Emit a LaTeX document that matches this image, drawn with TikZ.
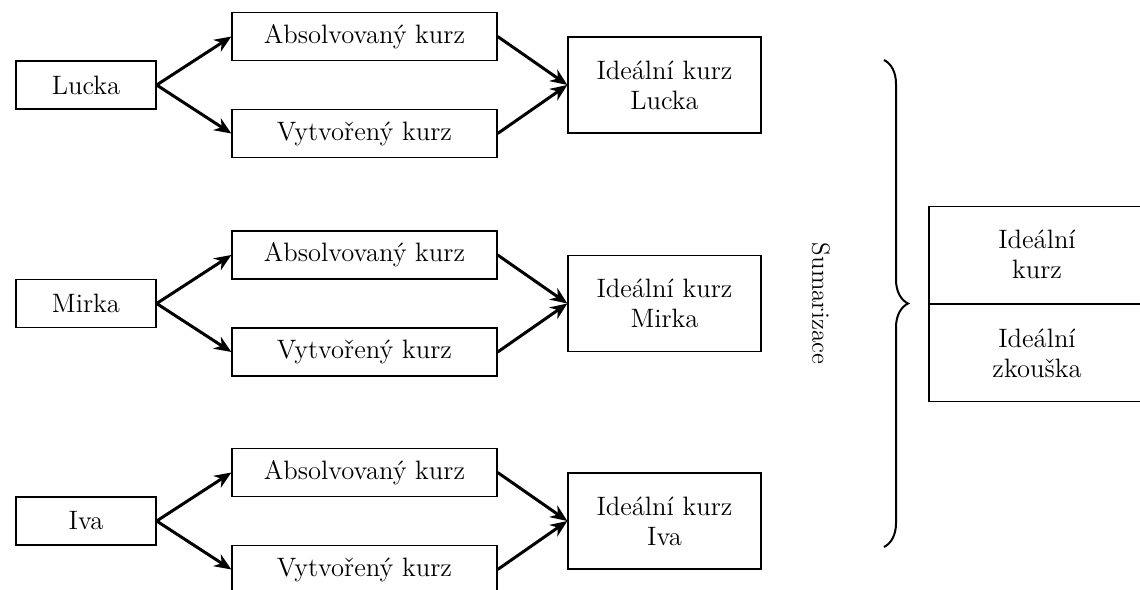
\documentclass[tikz,border=0pt]{standalone}
\usepackage{fontspec}
\usetikzlibrary{arrows.meta,decorations.pathreplacing}
\begin{document}
\begin{tikzpicture}[x=0.5pt,y=-0.5pt,
  every node/.style={font=\fontsize{13.3}{15}\selectfont},
  box/.style={draw, line width=0.65pt, inner sep=0pt, align=center},
  namebox/.style={box, minimum width=70pt, minimum height=24pt},
  kurzbox/.style={box, minimum width=132.5pt, minimum height=24pt},
  idealbox/.style={box, minimum width=96.5pt, minimum height=48pt},
  sumbox/.style={box, minimum width=108pt, minimum height=48.5pt},
  arr/.style={line width=1.5pt, -{Stealth[length=8.5pt,width=7pt]}}]
  \clip (0,0) rectangle (1140,589);

  \foreach \name/\y in {Lucka/85, Mirka/303.5, Iva/521} {
    \node [namebox] (\name) at (86,\y) {\name};
    \node [kurzbox] (abs\name) at (364.5,\y-48.5) {Absolvovaný kurz};
    \node [kurzbox] (vyt\name) at (364.5,\y+48.5) {Vytvořený kurz};
    \node [idealbox] (ideal\name) at (664.5,\y) {Ideální kurz\\\name};
    \draw [arr] (\name.east) -- (abs\name.west);
    \draw [arr] (\name.east) -- (vyt\name.west);
    \draw [arr] (abs\name.east) -- (ideal\name.west);
    \draw [arr] (vyt\name.east) -- (ideal\name.west);
  }

  % souhrn
  \node [rotate=-90, font=\fontsize{12.5}{15}\selectfont] (sum) at (821,303.5) {Sumarizace};
  \draw [line width=1pt, decorate, decoration={brace, amplitude=12pt}]
    (884,60) -- (884,547);
  \node [sumbox] (idkurz) at (1037,254.75) {Ideální\\kurz};
  \node [sumbox, anchor=north] (idzk) at (idkurz.south) {Ideální\\zkouška};
\end{tikzpicture}
\end{document}
